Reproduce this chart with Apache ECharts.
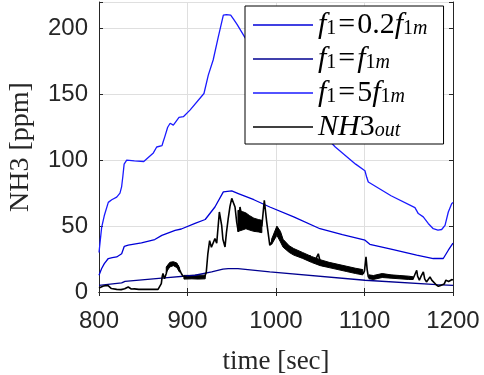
<!DOCTYPE html>
<html><head><meta charset="utf-8">
<script src="https://cdn.jsdelivr.net/npm/echarts@6/dist/echarts.min.js"></script>
<style>html,body{margin:0;padding:0;background:#fff}#c{width:484px;height:375px}</style>
</head><body><div id="c"></div>
<script>
// x ticks / y ticks
const xTicks = [800, 900, 1000, 1100, 1200];
const yTicks = [0, 50, 100, 150, 200];

// f1 = 5 f1m (top, bright blue)
const t5 = [800,803,806,810.5,814.4,820,823.7,825.6,827,828.4,831.3,840,850.6,861.4,865.2,871.2,872.5,874.3,877.6,880.4,884,886,890.4,895.3,902.8,918.6,923.5,929,934.8,940.5,944,948.8,952,956,965,980,1000,1020,1040,1067,1090,1100.5,1102.5,1104.3,1106,1130,1157,1160.8,1166.4,1172,1177.7,1183,1187.2,1191,1194.7,1198.5,1200];
const v5 = [30,49,58,68,70,72,75,80,88,97,100,99.5,99,105.5,110,111,114,117.7,125,128,126.6,127,132.4,133,138,150.6,164.5,176,193.6,210,210.5,210,207,203,193,178,160,144,129,110,97,92,87,83.5,82,73,64,59.5,57,52,48,47,47.4,50.6,60.7,67,68];

// f1 = 0.2 f1m (middle)
const t02 = [800,803,806,810.5,815,820,825.6,828.6,833,848,863,871,886,893,908.5,920,931,940.5,950,957.4,975,993,1020,1049.7,1075,1100.6,1106,1130,1159,1177.7,1189,1194.7,1200];
const v02 = [12.7,17.8,21.5,25.4,26,26.6,29,34.7,35.5,37.2,39.8,43,46.8,47.8,52,55,64.5,76,76.7,74.7,70,64.5,57,48,43.5,39.3,36.2,32.5,27.9,25.4,25.4,31.7,37];

// f1 = f1m (bottom, dark)
const t1 = [800,825.6,829.4,870.8,908.5,927.3,940,946,957,993,1100.6,1181.6,1200];
const v1 = [5,6.9,8.1,10.6,12.7,15.2,17.3,17.8,17.8,15.2,8.9,5.6,5];

// NH3 out (black)
const tOut = [800,801,805,810,812,814,820,825,829,831,833,835,836.5,840,845,850,855,860,866.7,868,870.4,871.5,872.3,874,876,877,878,880,883.6,886,889.3,891,893,895,896.8,900,905,910,915,919.4,921.2,923,925,927,928.5,931,933,936,938.6,940,942.4,944,946,948,950,951.5,953.7,955.6,957.4,959.3,962,966,970,975,980,984,986.8,989.5,993,997,1001,1005,1008,1012,1016,1020,1025,1031,1036,1038,1040,1042,1045,1047.8,1050,1051.6,1060,1072,1085,1098.6,1100,1101.7,1103,1104.3,1110,1115,1121,1130,1140,1150,1155,1157,1159,1160,1162,1164,1166.5,1168,1170,1172,1174,1176,1178,1181,1183.5,1186,1188,1190,1192,1193,1195,1197,1199,1200];
const vOut = [3,3.8,4.5,5,3.5,2.6,2,1.8,2.5,4,3.8,3,2.3,2.4,2,2,2.1,2,2,3,6.4,12,14,10,14,17,20,21,22,21,20,17,14,12,11.4,11,11.2,11,11.2,11.4,15,29,39,34,33,40.5,37,60.7,50.6,40,34.2,45,55.7,65,71,69.6,64.5,53,45.6,64.5,55,54,52,51,50,50,69.6,53,35.4,40.5,47,42,37,34,32,30.5,28.5,27,25,27.9,24,22.8,25,29,23,20.3,19.5,17.8,16,14,16,26.6,17,11.4,10.2,11.5,12.7,12,11,10.5,10.2,11,16.5,12,8.9,12,15.2,10,7.6,9,11.4,9,7.6,5.5,4.3,5,6.4,6,9,10.2,8,7.6,9.5,8.9];

// oscillation envelope of NH3 out (low / high) in several segments
const bandT = [
  [876,880,884,888,891],
  [896,905,912,920],
  [957,962,966,970,975,980,984],
  [995,1001,1005,1008,1015,1020,1030,1040,1050,1060,1070,1080,1090,1098],
  [1105,1110,1120,1130,1140,1150,1155]
];
const bandLow = [
  [15,19,20,18.5,15],
  [9.8,10,9.8,10],
  [46,47,48,47,46,45.6,45],
  [36,43,38,34,30,28,25.5,22.5,20,18.5,17,15.5,14,13],
  [10,9.5,11,10.5,10,9.5,9.5]
];
const bandHigh = [
  [19,22.5,23,22,18],
  [12.6,12.6,12.8,12.8],
  [62,61,60,58,56,55,54.4],
  [40,50,46,40,35,33,30,27,24.5,22.5,21,19.5,18,17],
  [13,12.5,14,13,12.5,12,11.5]
];

const names = ['s02', 's1', 's5', 'out'];
const colors = {s02: '#0000d8', s1: '#000090', s5: '#1a1aff', out: '#000000'};

function zip(a, b) { return a.map((x, i) => [x, b[i]]); }

const serif = 'Liberation Serif';
const LH = 28;
const richStyles = {
  i: {fontFamily: serif, fontStyle: 'italic', fontSize: 30, color: '#000', lineHeight: LH},
  r: {fontFamily: serif, fontSize: 30, color: '#000', lineHeight: LH},
  e: {fontFamily: serif, fontSize: 30, color: '#000', lineHeight: LH, padding: [0, 2, 0, 2]},
  s: {fontFamily: serif, fontSize: 20, color: '#000', lineHeight: LH, verticalAlign: 'bottom'},
  si: {fontFamily: serif, fontStyle: 'italic', fontSize: 20, color: '#000', lineHeight: LH, verticalAlign: 'bottom'}
};
const legendText = {
  s02: '{i|f}{s|1}{e|=}{r|0.2}{i|f}{s|1}{si|m}',
  s1: '{i|f}{s|1}{e|=}{i|f}{s|1}{si|m}',
  s5: '{i|f}{s|1}{e|=}{r|5}{i|f}{s|1}{si|m}',
  out: '{i|NH}{r|3}{si|out}'
};

const chart = echarts.init(document.getElementById('c'), null, {renderer: 'canvas'});
const axisColor = '#262626';
const labelFont = {fontFamily: 'Liberation Sans', fontSize: 24, color: axisColor};

chart.setOption({
  animation: false,
  backgroundColor: '#fff',
  grid: {left: 99, right: 31, top: 2, bottom: 83, outerBoundsMode: 'none', containLabel: false},
  legend: {
    data: names,
    orient: 'vertical',
    left: 245, top: 6,
    padding: [4, 16, 2, 8],
    itemGap: 4,
    itemWidth: 60, itemHeight: 1.4,
    icon: 'rect',
    backgroundColor: '#fff',
    borderColor: '#000', borderWidth: 1,
    formatter: n => legendText[n],
    textStyle: {rich: richStyles}
  },
  xAxis: [{
    type: 'value', min: 800, max: 1200, interval: 100,
    name: 'time [sec]', nameLocation: 'middle', nameGap: 56,
    nameTextStyle: {fontFamily: serif, fontSize: 27, color: axisColor},
    axisLine: {show: true, lineStyle: {color: axisColor, width: 1}},
    axisTick: {show: true, inside: true, length: 4, lineStyle: {color: axisColor}},
    axisLabel: Object.assign({margin: 17, formatter: v => xTicks.includes(v) ? String(v) : ''}, labelFont),
    splitLine: {show: true, lineStyle: {color: '#dfdfdf', width: 1}}
  }, {
    type: 'value', position: 'top', min: 800, max: 1200, interval: 100,
    axisLine: {show: true, lineStyle: {color: axisColor, width: 1}},
    axisTick: {show: true, inside: true, length: 4, lineStyle: {color: axisColor}},
    axisLabel: {show: false}, splitLine: {show: false}
  }],
  yAxis: [{
    type: 'value', min: 0, max: 220, interval: 50,
    name: 'NH3 [ppm]', nameLocation: 'middle', nameGap: 64,
    nameTextStyle: {fontFamily: serif, fontSize: 28, color: axisColor},
    axisLine: {show: true, lineStyle: {color: axisColor, width: 1}},
    axisTick: {show: true, inside: true, length: 4, lineStyle: {color: axisColor}},
    axisLabel: Object.assign({margin: 11, formatter: v => yTicks.includes(v) ? String(v) : ''}, labelFont),
    splitLine: {show: true, lineStyle: {color: '#dfdfdf', width: 1}}
  }, {
    type: 'value', position: 'right', min: 0, max: 220, interval: 50,
    axisLine: {show: true, lineStyle: {color: axisColor, width: 1}},
    axisTick: {show: true, inside: true, length: 4, lineStyle: {color: axisColor}},
    axisLabel: {show: false}, splitLine: {show: false}
  }],
  series: [
    {name: 's02', type: 'line', data: zip(t02, v02), symbol: 'none', lineStyle: {color: colors.s02, width: 1.3}, itemStyle: {color: colors.s02}},
    {name: 's1', type: 'line', data: zip(t1, v1), symbol: 'none', lineStyle: {color: colors.s1, width: 1.3}, itemStyle: {color: colors.s1}},
    {name: 's5', type: 'line', data: zip(t5, v5), symbol: 'none', lineStyle: {color: colors.s5, width: 1.3}, itemStyle: {color: colors.s5}},
    {name: 'out', type: 'line', data: zip(tOut, vOut), symbol: 'none', lineStyle: {color: '#000', width: 1.6}, itemStyle: {color: '#000'}, z: 3},
    {name: 'outBand', type: 'custom', coordinateSystem: 'cartesian2d', z: 3,
     data: bandT.map((_, i) => [i]),
     renderItem: (params, api) => {
       const k = api.value(0);
       const pts = [];
       bandT[k].forEach((t, j) => pts.push(api.coord([t, bandHigh[k][j]])));
       for (let j = bandT[k].length - 1; j >= 0; j--) pts.push(api.coord([bandT[k][j], bandLow[k][j]]));
       return {type: 'polygon', shape: {points: pts}, style: {fill: '#000', stroke: '#000', lineWidth: 1}};
     }}
  ]
});
</script></body></html>
